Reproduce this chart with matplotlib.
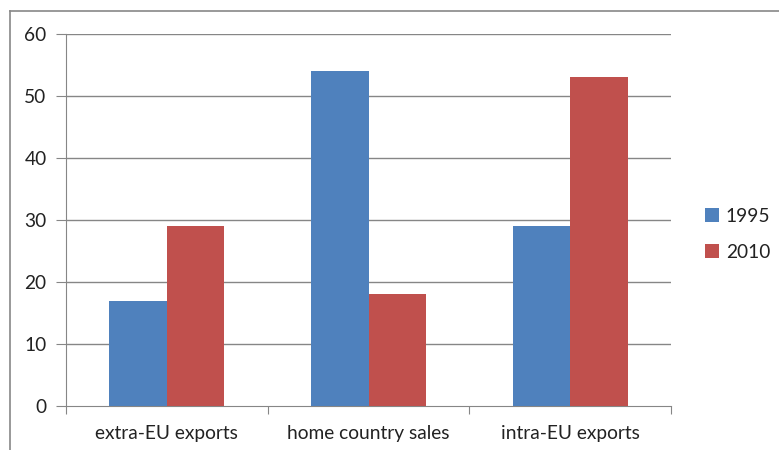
import matplotlib
matplotlib.use("Agg")
import matplotlib.pyplot as plt
from matplotlib.lines import Line2D
import numpy as np

categories = ["extra-EU exports", "home country sales", "intra-EU exports"]
series_names = ["1995", "2010"]
values_1995 = [17, 54, 29]
values_2010 = [29, 18, 53]
colors = ["#4F81BD", "#C0504D"]
yticks = [0, 10, 20, 30, 40, 50, 60]

plt.rcParams['font.family'] = ['Lato', 'DejaVu Sans']
fs = 13.8

fig = plt.figure(figsize=(7.79, 4.5), dpi=100)
ax = fig.add_axes([66/779, 1-406/450, (671-66)/779, (406-34)/450])

x = np.arange(len(categories))
w = 1/3.5
ax.bar(x - w/2, values_1995, w, color=colors[0], label=series_names[0], zorder=3)
ax.bar(x + w/2, values_2010, w, color=colors[1], label=series_names[1], zorder=3)

ax.set_xlim(-0.5, len(categories) - 0.5)
ax.set_ylim(0, 60)
ax.set_yticks(yticks)
ax.set_yticklabels([str(t) for t in yticks], fontsize=fs, color="#222222")
ax.set_xticks([-0.5, 0.5, 1.5, 2.5])
ax.set_xticklabels([])
ax.set_xticks(x, minor=True)
ax.set_xticklabels(categories, minor=True, fontsize=fs, color="#222222")
ax.tick_params(axis='x', which='minor', length=0, pad=14)
ax.tick_params(axis='x', which='major', length=6, color="#868686")
ax.tick_params(axis='y', length=7, color="#868686", pad=7)

for t in yticks[1:]:
    ax.axhline(t, color="#868686", lw=1, zorder=1, xmin=0, xmax=1)
ax.spines['top'].set_visible(False)
ax.spines['right'].set_visible(False)
ax.spines['left'].set_color("#868686")
ax.spines['bottom'].set_color("#868686")

leg = fig.legend(loc='upper left', bbox_to_anchor=(697/779, 1-200/450), frameon=False,
                 fontsize=fs, handlelength=0.75, handleheight=0.75, handletextpad=0.35,
                 labelspacing=1.0, borderaxespad=0)
for txt in leg.get_texts():
    txt.set_color("#222222")

fig.add_artist(Line2D([10/779, 10/779], [0, 1-11/450], color="#888888", lw=1.2))
fig.add_artist(Line2D([10/779, 1], [1-11/450, 1-11/450], color="#888888", lw=1.2))

fig.savefig("out.png", dpi=100)
